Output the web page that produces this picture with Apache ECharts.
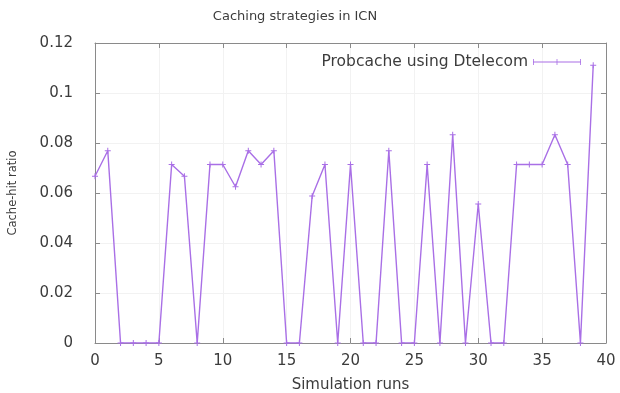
<!DOCTYPE html>
<html>
<head>
<meta charset="utf-8">
<script src="https://cdn.jsdelivr.net/npm/echarts@6/dist/echarts.min.js"></script>
<style>
  html, body { margin: 0; padding: 0; background: #fff; }
  #chart { width: 620px; height: 393px; }
</style>
</head>
<body>
<div id="chart"></div>
<script>
// simulation run index and cache-hit ratio
const runs = [];
for (let i = 0; i < 40; i++) runs.push(i);
const hitRatio = [
  0.0667, 0.0769, 0, 0, 0, 0, 0.0714, 0.0667, 0, 0.0714,
  0.0714, 0.0625, 0.0769, 0.0714, 0.0769, 0, 0, 0.0588, 0.0714, 0,
  0.0714, 0, 0, 0.0769, 0, 0, 0.0714, 0, 0.0833, 0,
  0.0556, 0, 0, 0.0714, 0.0714, 0.0714, 0.0833, 0.0714, 0, 0.1111
];
const seriesName = 'Probcache using Dtelecom';

const purple = '#a96fe6';
const axisGray = '#8a8a8a';
const textColor = '#3c3c3c';
const font = 'DejaVu Sans';

const chart = echarts.init(document.getElementById('chart'));

const baseAxis = {
  axisLine: { show: true, onZero: false, lineStyle: { color: axisGray, width: 1 } },
  axisTick: { show: true, inside: true, length: 5, lineStyle: { color: axisGray } },
  splitLine: { show: false }
};

chart.setOption({
  animation: false,
  title: {
    text: 'Caching strategies in ICN',
    left: 290, top: 5, textAlign: 'center',
    textStyle: { fontFamily: font, fontSize: 13, fontWeight: 'normal', color: textColor }
  },
  legend: {
    right: 34, top: 49,
    align: 'right',
    icon: 'path://M0,4.6h48v0.8h-48z M0,2h0.8v6h-0.8z M47.2,2h0.8v6h-0.8z M23.6,2h0.8v6h-0.8z',
    itemWidth: 48, itemHeight: 8,
    itemGap: 10,
    itemStyle: { borderWidth: 0, color: purple },
    textStyle: { fontFamily: font, fontSize: 15.5, color: textColor },
    data: [seriesName]
  },
  grid: { left: 95, right: 14, top: 43, bottom: 50, show: false, outerBoundsMode: 'none', containLabel: false },
  xAxis: [
    Object.assign({}, baseAxis, {
      type: 'value', min: 0, max: 40, interval: 5,
      name: 'Simulation runs', nameLocation: 'middle', nameGap: 35,
      nameTextStyle: { fontFamily: font, fontSize: 15, color: textColor },
      axisLabel: { fontFamily: font, fontSize: 15, color: textColor, margin: 11 },
      splitLine: { show: true, lineStyle: { color: '#f2f2f2', width: 1 } }
    }),
    Object.assign({}, baseAxis, {
      type: 'value', position: 'top', min: 0, max: 40, interval: 5,
      axisLabel: { show: false }
    })
  ],
  yAxis: [
    Object.assign({}, baseAxis, {
      type: 'value', min: 0, max: 0.12, interval: 0.02,
      name: 'Cache-hit ratio', nameLocation: 'middle', nameGap: 76,
      nameTextStyle: { fontFamily: font, fontSize: 11.5, color: textColor },
      axisLabel: { fontFamily: font, fontSize: 15, color: textColor, margin: 22 },
      splitLine: { show: true, lineStyle: { color: '#f2f2f2', width: 1 } }
    }),
    Object.assign({}, baseAxis, {
      type: 'value', position: 'right', min: 0, max: 0.12, interval: 0.02,
      axisLabel: { show: false }
    })
  ],
  series: [{
    name: seriesName,
    type: 'line',
    data: runs.map((r, i) => [r, hitRatio[i]]),
    symbol: 'path://M0,5L10,5M5,0L5,10',
    symbolSize: 6,
    showAllSymbol: true,
    lineStyle: { color: purple, width: 1.4 },
    itemStyle: { color: purple, borderColor: purple, borderWidth: 1 }
  }]
});
</script>
</body>
</html>
